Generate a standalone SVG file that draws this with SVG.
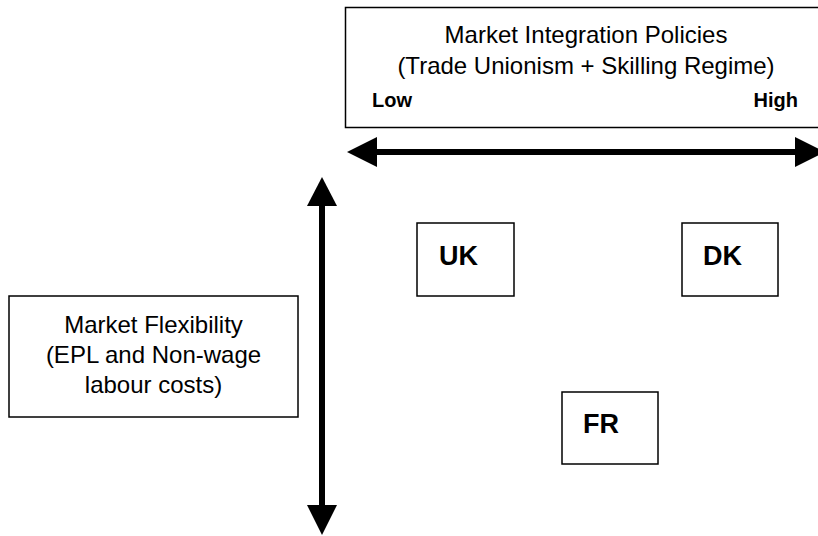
<svg xmlns="http://www.w3.org/2000/svg" width="818" height="536" viewBox="0 0 818 536">
  <style>
    .box { fill: #ffffff; stroke: #000000; stroke-width: 1.5; }
    .lbl { font-family: "Liberation Sans", Arial, sans-serif; font-size: 24px; fill: #000000; }
    .end { font-family: "Liberation Sans", Arial, sans-serif; font-size: 20px; font-weight: bold; fill: #000000; }
    .cty { font-family: "Liberation Sans", Arial, sans-serif; font-size: 27px; font-weight: bold; fill: #000000; }
    .axis { stroke: #000000; stroke-width: 6; fill: none; }
    .head { fill: #000000; }
  </style>
  <rect width="818" height="536" fill="#ffffff"/>

  <g id="integration-axis-label">
    <rect class="box" x="345.5" y="7.5" width="480" height="120"/>
    <text class="lbl" x="586" y="43" text-anchor="middle">Market Integration Policies</text>
    <text class="lbl" x="586" y="74" text-anchor="middle">(Trade Unionism + Skilling Regime)</text>
    <text class="end" x="372" y="107">Low</text>
    <text class="end" x="798" y="107" text-anchor="end">High</text>
  </g>

  <g id="flexibility-axis-label">
    <rect class="box" x="9" y="296" width="289" height="121"/>
    <text class="lbl" x="153.5" y="333" text-anchor="middle">Market Flexibility</text>
    <text class="lbl" x="153.5" y="363" text-anchor="middle">(EPL and Non-wage</text>
    <text class="lbl" x="153.5" y="393" text-anchor="middle">labour costs)</text>
  </g>

  <g id="node-uk">
    <rect class="box" x="417" y="223" width="97" height="73"/>
    <text class="cty" x="439" y="265">UK</text>
  </g>
  <g id="node-dk">
    <rect class="box" x="682" y="223" width="96" height="73"/>
    <text class="cty" x="703" y="265">DK</text>
  </g>
  <g id="node-fr">
    <rect class="box" x="562" y="392" width="96" height="72"/>
    <text class="cty" x="583" y="433">FR</text>
  </g>

  <g id="connectors">
    <!-- horizontal double-headed axis -->
    <line class="axis" x1="375" y1="152" x2="797" y2="152"/>
    <polygon class="head" points="347,152 377,137 377,167"/>
    <polygon class="head" points="825,152 795,137 795,167"/>
    <!-- vertical double-headed axis -->
    <line class="axis" x1="322" y1="204" x2="322" y2="507"/>
    <polygon class="head" points="322,177 307,206 337,206"/>
    <polygon class="head" points="322,535 307,505 337,505"/>
  </g>
</svg>
